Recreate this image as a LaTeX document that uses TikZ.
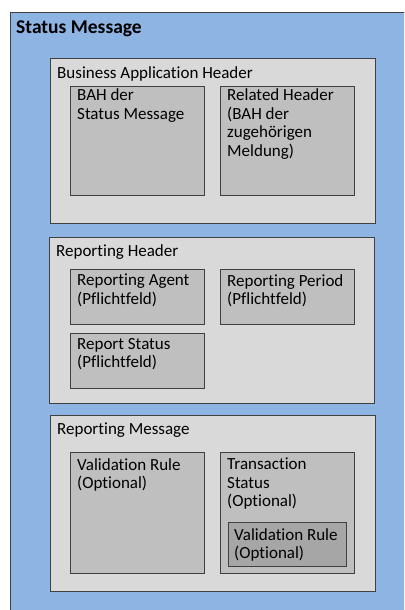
\documentclass[tikz,border=0pt]{standalone}
\usepackage{fontspec}
\setmainfont{Carlito}[Ligatures=NoCommon]
\definecolor{bgblue}{HTML}{8EB4E3}
\definecolor{grpgray}{HTML}{D9D9D9}
\definecolor{itemgray}{HTML}{BFBFBF}
\definecolor{subgray}{HTML}{A6A6A6}
\definecolor{edge}{HTML}{404040}
\newcommand{\fstrut}{\rule{0pt}{14pt}}
\tikzset{
  outerbox/.style={draw=edge, line width=0.8pt, fill=bgblue},
  grpbox/.style={draw=edge, line width=0.8pt, fill=grpgray, anchor=north west, inner sep=0pt},
  itembox/.style={draw=edge, line width=0.8pt, fill=itemgray, anchor=north west, inner sep=0pt},
  subbox/.style={draw=edge, line width=0.8pt, fill=subgray, anchor=north west, inner sep=0pt},
  lbl/.style={anchor=north west, inner sep=0pt, yshift=14pt, align=left,
    font=\fontsize{17}{18.5}\selectfont, execute at begin node=\fstrut},
  titlelbl/.style={anchor=base west, inner sep=0pt, font=\fontsize{19.5}{22}\selectfont\bfseries},
}
\begin{document}
\begin{tikzpicture}[x=1pt,y=-1pt]
\useasboundingbox (0,0) rectangle (404,610);
\clip (0,0) rectangle (404,610);
\fill[white] (0,0) rectangle (404,610);
\draw[outerbox] (10,12) rectangle (420,630);
\node[titlelbl] (title) at (16,34) {Status Message};

% Business Application Header
\node[grpbox, minimum width=325, minimum height=165] (bah) at (50,58) {};
\node[lbl] (bahl) at ([shift={(7,20)}]bah.north west) {Business Application Header};
\node[itembox, minimum width=134, minimum height=109] (bahsm) at (70,86) {};
\node[lbl] (bahsml) at ([shift={(7,16.5)}]bahsm.north west) {BAH der\\Status Message};
\node[itembox, minimum width=134, minimum height=109] (rel) at (220,86) {};
\node[lbl] (rell) at ([shift={(7,16.5)}]rel.north west) {Related Header\\(BAH der\\zugehörigen\\Meldung)};

% Reporting Header
\node[grpbox, minimum width=325, minimum height=166] (rh) at (49,237) {};
\node[lbl] (rhl) at ([shift={(7,19)}]rh.north west) {Reporting Header};
\node[itembox, minimum width=134, minimum height=55] (ra) at (70,269) {};
\node[lbl] (ral) at ([shift={(7,19)}]ra.north west) {Reporting Agent\\(Pflichtfeld)};
\node[itembox, minimum width=134, minimum height=55] (rp) at (220,269) {};
\node[lbl] (rpl) at ([shift={(7,19)}]rp.north west) {Reporting Period\\(Pflichtfeld)};
\node[itembox, minimum width=134, minimum height=55] (rs) at (70,333) {};
\node[lbl] (rsl) at ([shift={(7,19)}]rs.north west) {Report Status\\(Pflichtfeld)};

% Reporting Message
\node[grpbox, minimum width=325, minimum height=176] (rm) at (50,415) {};
\node[lbl] (rml) at ([shift={(7,19)}]rm.north west) {Reporting Message};
\node[itembox, minimum width=134, minimum height=121] (vr) at (70,452) {};
\node[lbl] (vrl) at ([shift={(7,20)}]vr.north west) {Validation Rule\\(Optional)};
\node[itembox, minimum width=134, minimum height=121] (ts) at (220,452) {};
\node[lbl] (tsl) at ([shift={(7,20)}]ts.north west) {Transaction\\Status\\(Optional)};
\node[subbox, minimum width=118, minimum height=44] (vr2) at (228,522) {};
\node[lbl] (vr2l) at ([shift={(6,20)}]vr2.north west) {Validation Rule\\(Optional)};
\end{tikzpicture}
\end{document}
